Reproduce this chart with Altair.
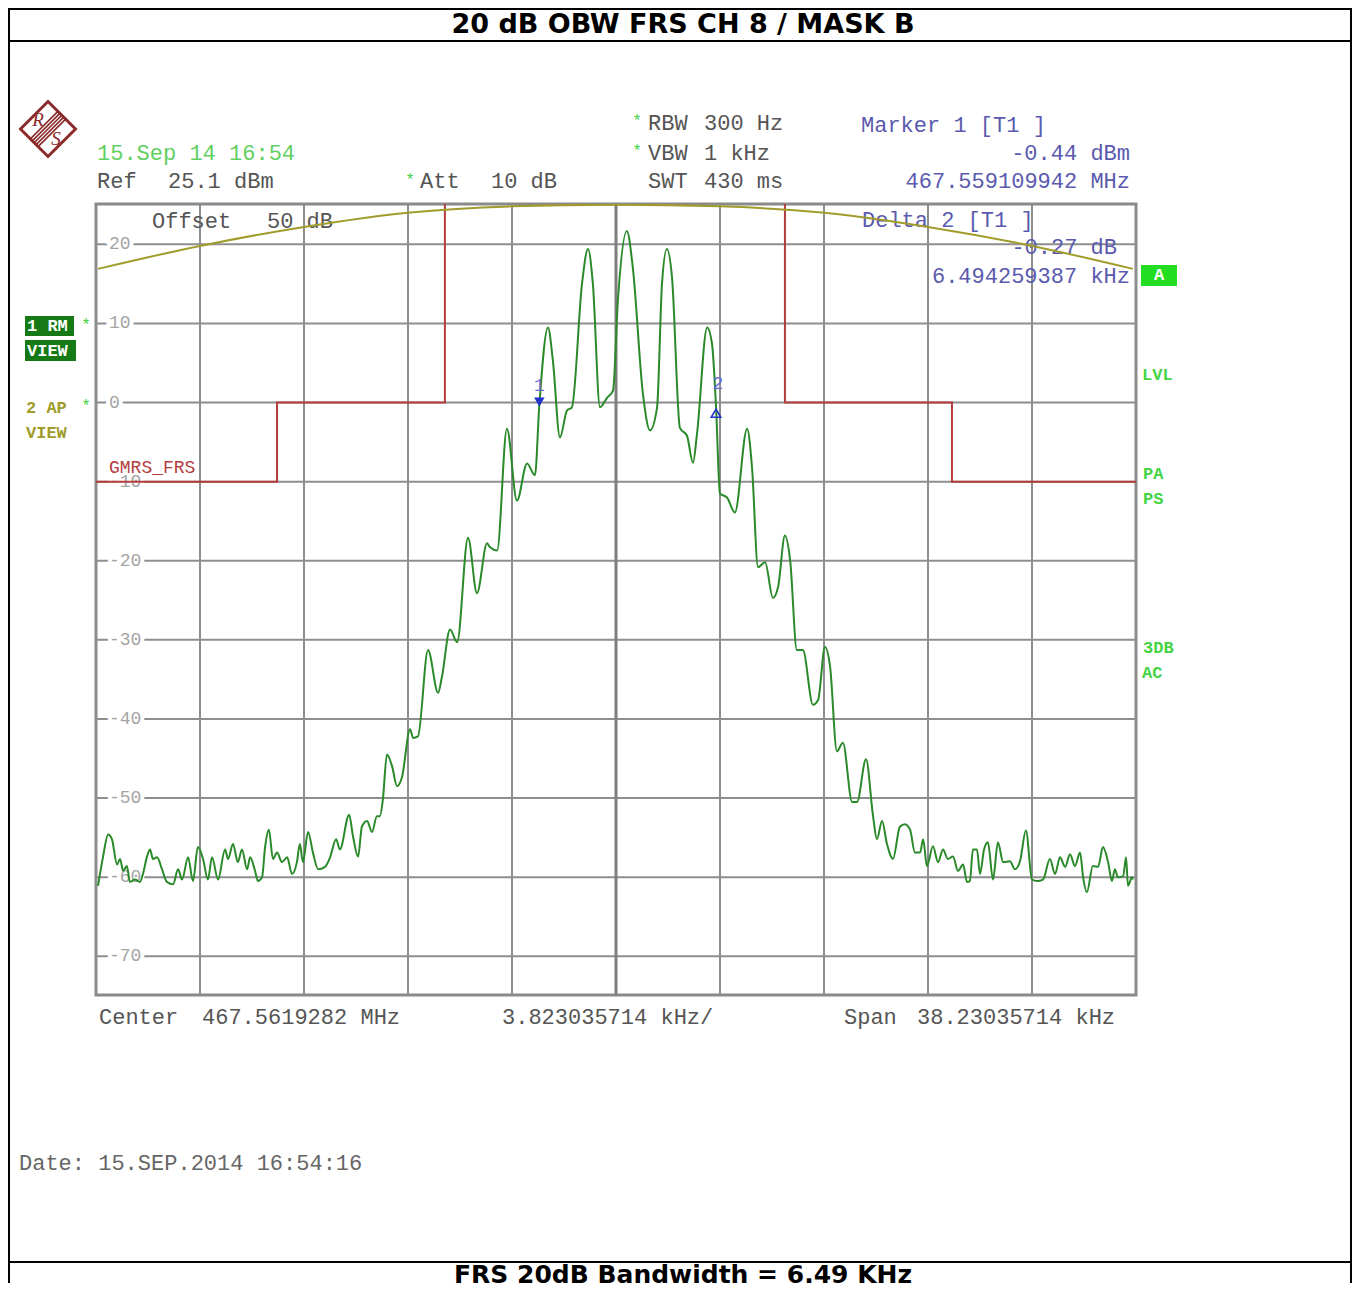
import altair as alt
import pandas as pd

freq_khz = [
    -19.04, -18.86, -18.67, -18.53, -18.34, -18.23, -18.12, -17.98, -17.87, -17.68,
    -17.50, -17.39, -17.24, -17.13, -17.02, -16.87, -16.69, -16.51, -16.28, -16.10,
    -15.95, -15.73, -15.55, -15.37, -15.18, -15.00, -14.85, -14.63, -14.37, -14.26,
    -14.08, -13.90, -13.75, -13.56, -13.45, -13.27, -13.16, -13.01, -12.90, -12.76,
    -12.61, -12.46, -12.28, -12.09, -11.91, -11.73, -11.62, -11.51, -11.32, -11.14,
    -10.95, -10.70, -10.51, -10.29, -10.15, -9.81, -9.67, -9.48, -9.34, -9.15,
    -8.97, -8.79, -8.68, -8.57, -8.42, -8.23, -8.05, -7.87, -7.57, -7.46,
    -7.28, -6.91, -6.54, -6.40, -6.10, -5.84, -5.44, -5.11, -4.74, -4.63,
    -4.37, -4.01, -3.64, -3.27, -2.98, -2.82, -2.50, -2.32, -2.06, -1.80,
    -1.62, -1.25, -1.03, -0.85, -0.59, -0.33, -0.11, 0.07, 0.40, 0.62,
    0.99, 1.25, 1.51, 1.69, 1.87, 2.06, 2.35, 2.61, 2.83, 2.98,
    3.35, 3.53, 3.68, 3.82, 4.08, 4.37, 4.82, 5.00, 5.22, 5.48,
    5.77, 5.96, 6.21, 6.40, 6.65, 6.87, 7.24, 7.43, 7.68, 7.87,
    8.12, 8.34, 8.68, 8.86, 9.19, 9.45, 9.59, 9.78, 9.96, 10.18,
    10.44, 10.62, 10.81, 10.99, 11.18, 11.29, 11.43, 11.65, 11.84, 12.02,
    12.20, 12.39, 12.57, 12.76, 12.90, 13.01, 13.12, 13.27, 13.38, 13.53,
    13.67, 13.86, 14.04, 14.23, 14.48, 14.67, 14.85, 15.07, 15.29, 15.48,
    15.70, 15.95, 16.14, 16.32, 16.51, 16.69, 16.87, 17.06, 17.17, 17.31,
    17.53, 17.72, 17.90, 18.09, 18.23, 18.34, 18.45, 18.64, 18.75, 18.82,
    18.97, 19.00,
]
level_dbm = [
    -61.1, -57.5, -54.6, -55.2, -58.4, -57.7, -59.2, -58.6, -60.6, -60.3,
    -60.6, -59.6, -57.4, -56.5, -57.7, -57.5, -59.0, -60.6, -60.9, -59.0,
    -60.3, -57.5, -60.5, -56.2, -57.7, -60.3, -57.5, -60.3, -56.5, -57.7,
    -55.8, -58.1, -56.5, -59.0, -57.5, -59.2, -60.5, -60.0, -56.2, -54.0,
    -57.7, -56.9, -58.1, -57.5, -59.6, -58.1, -55.8, -58.1, -54.3, -56.9,
    -59.0, -58.7, -57.5, -55.2, -56.5, -52.1, -54.8, -57.4, -53.6, -52.9,
    -54.3, -52.3, -52.3, -50.2, -44.5, -46.0, -48.5, -47.4, -41.3, -42.4,
    -42.2, -31.3, -36.7, -34.7, -28.7, -30.3, -17.1, -24.1, -17.8, -18.3,
    -18.7, -3.3, -12.4, -7.7, -9.2, -0.44, 9.5, 5.3, -4.4, -1.0,
    -0.6, 15.0, 19.4, 15.0, -0.6, 0.6, 1.5, 12.9, 21.7, 17.0,
    1.1, -3.5, -0.6, 15.0, 19.4, 15.8, -3.2, -4.2, -7.6, -3.9,
    9.5, 7.4, -0.71, -11.5, -12.0, -13.9, -3.3, -8.2, -20.8, -20.2,
    -24.7, -23.3, -16.8, -19.9, -31.3, -31.3, -38.2, -37.6, -30.9, -33.4,
    -44.1, -43.0, -50.5, -50.5, -45.1, -52.3, -55.2, -52.9, -55.8, -57.7,
    -53.6, -53.3, -54.0, -56.9, -56.9, -55.2, -58.6, -56.1, -58.1, -56.5,
    -57.7, -57.4, -59.2, -58.4, -60.6, -60.5, -56.5, -56.5, -59.6, -56.5,
    -55.6, -60.3, -55.6, -58.1, -58.0, -59.0, -58.0, -54.1, -60.3, -60.5,
    -60.3, -57.7, -59.6, -57.5, -58.7, -57.1, -58.6, -56.9, -60.0, -61.9,
    -58.6, -58.7, -56.2, -58.1, -60.5, -59.0, -60.0, -59.9, -57.5, -61.1,
    -60.0, -60.3,
]
ap_freq_khz = [-19.04, -15.29, -11.47, -7.65, -3.86, 0.0, 3.79, 7.65, 11.47, 15.29, 19.00]
ap_level_dbm = [16.9, 19.8, 22.2, 24.0, 24.8, 25.0, 24.8, 24.0, 22.2, 19.8, 16.9]
mask_freq_khz = [-19.115, -12.46, -12.46, -6.29, -6.29, 6.21, 6.21, 12.35, 12.35, 19.115]
mask_level_dbm = [-10, -10, 0, 0, 30, 30, 0, 0, -10, -10]
y_tick_db = [20, 10, 0, -10, -20, -30, -40, -50, -60, -70]
x_div_index = [-5, -4, -3, -2, -1, 1, 2, 3, 4, 5]

center_mhz = 467.5619282
span_khz = 38.23035714
div_khz = 3.823035714
ref_dbm = 25.1
marker1_mhz = 467.559109942
marker1_dbm = -0.44
delta2_khz = 6.494259387
delta2_db = -0.27

# ---------------- styles ----------------
MONO = "Liberation Mono"
SANS = "DejaVu Sans"
GREEN = "#2a8a2a"
OLIVE = "#a09c2c"
MASK = "#b43c3c"
GRID = "#8e8e8e"
TXT = "#555555"
BLUE = "#5a5aae"
LGREEN = "#44d444"
LOGO = "#8b2a2a"
OX, OY = 96, 204  # plot origin on the page

half = span_khz / 2
xs = alt.Scale(domain=[-half, half], nice=False, zero=False)
ys = alt.Scale(domain=[ref_dbm - 100, ref_dbm], nice=False, zero=False)

trace_df = pd.DataFrame({"f": freq_khz, "l": level_dbm, "i": list(range(len(freq_khz)))})
ap_df = pd.DataFrame({"f": ap_freq_khz, "l": ap_level_dbm, "i": list(range(len(ap_freq_khz)))})
mask_df = pd.DataFrame({"f": mask_freq_khz, "l": mask_level_dbm, "i": list(range(len(mask_freq_khz)))})
ylab_df = pd.DataFrame({"l": y_tick_db, "t": [str(v) for v in y_tick_db]})
xgrid_df = pd.DataFrame({"f": [k * div_khz for k in x_div_index]})
m1_f = (marker1_mhz - center_mhz) * 1000
m2_f = m1_f + delta2_khz
m1_df = pd.DataFrame({"f": [m1_f], "l": [marker1_dbm], "n": ["1"]})
m2_df = pd.DataFrame({"f": [m2_f], "l": [marker1_dbm + delta2_db], "n": ["2"]})
one = pd.DataFrame({"d": [0]})


def X():
    return alt.X("f:Q", scale=xs, axis=None)


def Y():
    return alt.Y("l:Q", scale=ys, axis=None)


def txt(s, x, y, color=TXT, size=22, align="left", weight="normal", font=MONO, style="normal"):
    return alt.Chart(one).mark_text(
        text=s, align=align, baseline="middle", font=font, fontSize=size,
        fontWeight=weight, fontStyle=style, color=color
    ).encode(x=alt.value(x - OX), y=alt.value(y - OY))


def box(x1, x2, y1, y2, color):
    return alt.Chart(one).mark_rect(color=color).encode(
        x=alt.value(x1 - OX), x2=alt.value(x2 - OX), y=alt.value(y1 - OY), y2=alt.value(y2 - OY))


def hline(y, x1=9, x2=1351):
    return alt.Chart(one).mark_rule(color="black", strokeWidth=2).encode(
        x=alt.value(x1 - OX), x2=alt.value(x2 - OX), y=alt.value(y - OY))


def vline(x, y1=8, y2=1283):
    return alt.Chart(one).mark_rule(color="black", strokeWidth=2).encode(
        x=alt.value(x - OX), y=alt.value(y1 - OY), y2=alt.value(y2 - OY))


ygrid = alt.Chart(ylab_df).mark_rule(color=GRID, strokeWidth=2).encode(y=Y())
xgrid = alt.Chart(xgrid_df).mark_rule(color=GRID, strokeWidth=2).encode(x=X())
center_rule = alt.Chart(pd.DataFrame({"f": [0.0]})).mark_rule(color="#7e7e7e", strokeWidth=3).encode(x=X())

ylab_halo = alt.Chart(ylab_df).mark_text(align="left", baseline="middle", font=MONO, fontSize=18,
                                         stroke="white", strokeWidth=8, color="white").encode(
    x=alt.value(13), y=Y(), text="t:N")
ylab = alt.Chart(ylab_df).mark_text(align="left", baseline="middle", font=MONO, fontSize=18,
                                    color="#a4a4a4").encode(x=alt.value(13), y=Y(), text="t:N")

mask = alt.Chart(mask_df).mark_line(color=MASK, strokeWidth=2, clip=True).encode(x=X(), y=Y(), order="i:Q")
ap = alt.Chart(ap_df).mark_line(color=OLIVE, strokeWidth=2, interpolate="monotone", clip=True).encode(
    x=X(), y=Y(), order="i:Q")
trace = alt.Chart(trace_df).mark_line(color=GREEN, strokeWidth=2, interpolate="monotone", clip=True).encode(
    x=X(), y=Y(), order="i:Q")

m1 = alt.Chart(m1_df).mark_point(shape="triangle-down", filled=True, size=110, color="#2233cc",
                                 yOffset=-4, opacity=1).encode(x=X(), y=Y())
m1t = alt.Chart(m1_df).mark_text(font=MONO, fontSize=18, color="#6a6ad0", dy=-20).encode(x=X(), y=Y(), text="n:N")
m2 = alt.Chart(m2_df).mark_point(shape="triangle-up", filled=False, size=90, color="#2233cc",
                                 strokeWidth=1.6, yOffset=5, opacity=1).encode(x=X(), y=Y())
m2t = alt.Chart(m2_df).mark_text(font=MONO, fontSize=18, color="#6a6ad0", dy=-24, dx=2).encode(x=X(), y=Y(), text="n:N")

logo_outline = alt.Chart(one).mark_point(shape="M0,-1L1,0L0,1L-1,0Z", size=3025, filled=False, stroke=LOGO,
                                         strokeWidth=3, opacity=1).encode(x=alt.value(48 - OX), y=alt.value(129 - OY))
logo_band = alt.Chart(one).mark_point(
    shape="M-0.5,0.5L0.5,-0.5 M-0.43,0.57L0.57,-0.43 M-0.57,0.43L0.43,-0.57 M-0.36,0.64L0.64,-0.36 M-0.64,0.36L0.36,-0.64",
    size=3025, filled=False, stroke=LOGO, strokeWidth=1.6, opacity=1).encode(x=alt.value(48 - OX), y=alt.value(129 - OY))

layers = [
    ygrid, xgrid, center_rule, ylab_halo, ylab,
    # frame lines
    hline(9), hline(41), hline(1262), vline(9), vline(1351),
    txt("20 dB OBW FRS CH 8 / MASK B", 683, 25, color="black", size=27, align="center", weight="bold", font=SANS),
    txt("FRS 20dB Bandwidth = 6.49 KHz", 683, 1275, color="black", size=25, align="center", weight="bold", font=SANS),
    logo_outline, logo_band,
    txt("R", 38, 120, color=LOGO, size=19, align="center", font="Liberation Serif", style="italic"),
    txt("S", 56, 139, color=LOGO, size=19, align="center", font="Liberation Serif", style="italic"),
    # header
    txt("15.Sep 14 16:54", 97, 153, color="#62cf62"),
    txt("Ref", 97, 181), txt("25.1 dBm", 168, 181),
    txt("*", 410, 180, color=LGREEN, size=16, align="center"),
    txt("Att", 420, 181), txt("10 dB", 491, 181),
    txt("*", 637, 121, color=LGREEN, size=16, align="center"),
    txt("RBW", 648, 123), txt("300 Hz", 704, 123),
    txt("*", 637, 151, color=LGREEN, size=16, align="center"),
    txt("VBW", 648, 153), txt("1 kHz", 704, 153),
    txt("SWT", 648, 181), txt("430 ms", 704, 181),
    txt("Marker 1 [T1 ]", 861, 125, color=BLUE),
    txt("-0.44 dBm", 1130, 153, color=BLUE, align="right"),
    txt("467.559109942 MHz", 1130, 181, color=BLUE, align="right"),
    txt("Delta 2 [T1 ]", 862, 220, color=BLUE),
    txt("-0.27 dB", 1117, 247, color=BLUE, align="right"),
    txt("6.494259387 kHz", 1130, 276, color=BLUE, align="right"),
    txt("Offset", 152, 221), txt("50 dB", 267, 221),
    txt("GMRS_FRS", 109, 468, color=MASK, size=18),
    # left side
    box(25, 74, 316, 336, "#157a15"),
    txt("1 RM", 27, 326, color="white", size=17, weight="bold"),
    txt("*", 86, 325, color=LGREEN, size=16, align="center"),
    box(25, 76, 340, 361, "#157a15"),
    txt("VIEW", 27, 351, color="white", size=17, weight="bold"),
    txt("2 AP", 26, 408, color=OLIVE, size=17, weight="bold"),
    txt("*", 86, 406, color=LGREEN, size=16, align="center"),
    txt("VIEW", 26, 433, color=OLIVE, size=17, weight="bold"),
    # right side
    box(1141, 1177, 265, 286, "#22dd22"),
    txt("A", 1159, 275, color="white", size=17, align="center", weight="bold"),
    txt("LVL", 1142, 375, color=LGREEN, size=17, weight="bold"),
    txt("PA", 1143, 474, color=LGREEN, size=17, weight="bold"),
    txt("PS", 1143, 499, color=LGREEN, size=17, weight="bold"),
    txt("3DB", 1143, 648, color=LGREEN, size=17, weight="bold"),
    txt("AC", 1142, 673, color=LGREEN, size=17, weight="bold"),
    # footer texts
    txt("Center", 99, 1017), txt("467.5619282 MHz", 202, 1017),
    txt("3.823035714 kHz/", 502, 1017),
    txt("Span", 844, 1017), txt("38.23035714 kHz", 917, 1017),
    txt("Date: 15.SEP.2014  16:54:16", 19, 1163, color="#666666"),
    # data
    mask, ap, trace, m1, m1t, m2, m2t,
]

chart = alt.layer(*layers).properties(
    width=1040, height=791,
    autosize=alt.AutoSizeParams(type="none"),
    padding={"left": 88, "top": 196, "right": 216, "bottom": 288},
    background="white",
).configure_view(stroke="#8a8a8a", strokeWidth=3)

chart.save("out.html", embed_options={"renderer": "svg", "actions": False})
